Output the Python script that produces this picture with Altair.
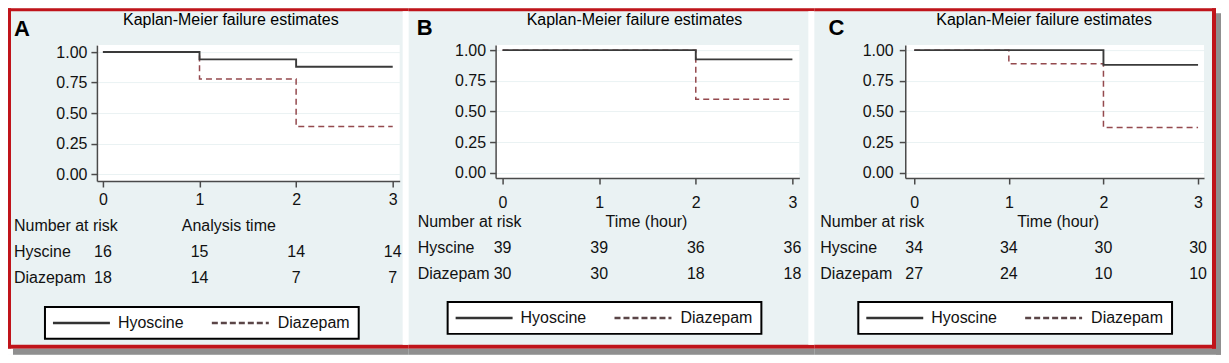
import altair as alt
import pandas as pd

# ---------------- data ----------------
times = [0, 1, 2, 3]
groups = ["Hyoscine", "Diazepam"]          # legend names
row_labels = ["Hyscine", "Diazepam"]       # risk-table row names (as printed)
panel_letters = ["A", "B", "C"]
plot_title = "Kaplan-Meier failure estimates"
x_titles = ["Analysis time", "Time (hour)", "Time (hour)"]
header_label = "Number at risk"
y_ticks = [0, 0.25, 0.5, 0.75, 1.0]
x_ticks = [0, 1, 2, 3]

# Kaplan-Meier estimates as plotted (value at each time, step-after)
a_hyo = [1.00, 0.94, 0.88, 0.88]
a_dia = [1.00, 0.78, 0.39, 0.39]
b_hyo = [1.00, 1.00, 0.925, 0.925]
b_dia = [1.00, 1.00, 0.60, 0.60]
c_hyo = [1.00, 1.00, 0.88, 0.88]
c_dia = [1.00, 0.89, 0.37, 0.37]

# numbers at risk
a_risk_hyo = [16, 15, 14, 14]
a_risk_dia = [18, 14, 7, 7]
b_risk_hyo = [39, 39, 36, 36]
b_risk_dia = [30, 30, 18, 18]
c_risk_hyo = [34, 34, 30, 30]
c_risk_dia = [27, 24, 10, 10]

km = [(a_hyo, a_dia), (b_hyo, b_dia), (c_hyo, c_dia)]
risk = [(a_risk_hyo, a_risk_dia), (b_risk_hyo, b_risk_dia), (c_risk_hyo, c_risk_dia)]

# ---------------- style ----------------
FONT = "Liberation Sans"
BG = "#eaf2f3"
RED = "#c0141a"
SHADOW = "#8f8f8f"
HYO_COL = "#3a3a3a"
DIA_COL = "#94494e"
AXIS_COL = "#4a4a4a"
TXT = "#111111"

# layout (page pixel positions of the reference)
LAYOUT = [
    dict(view=(97, 45, 303, 136), xdom=[-0.062, 3.072], ydom=[-0.057, 1.057], xpad=5, ypad=4,
         letter_xy=(22, 29), title_xy=(231, 20), head_y=226, xtitle_x=229, rows_y=(252, 278),
         lab_x=14, legend=(45, 307, 359, 339), span=(8, 409), gap=(403, 409)),
    dict(view=(496, 45, 304, 133), xdom=[-0.072, 3.072], ydom=[-0.041, 1.041], xpad=11, ypad=4,
         letter_xy=(425, 28), title_xy=(635, 20), head_y=222, xtitle_x=647, rows_y=(248, 274),
         lab_x=418, legend=(448, 302, 762, 334), span=(409, 815), gap=(809, 815)),
    dict(view=(906, 45, 299, 133), xdom=[-0.095, 3.063], ydom=[-0.041, 1.041], xpad=11, ypad=6,
         letter_xy=(837, 28), title_xy=(1045, 20), head_y=222, xtitle_x=1059, rows_y=(248, 274),
         lab_x=821, legend=(859, 302, 1173, 334), span=(815, 1217), gap=None),
]
FRAME_TOP = (8, 11)
FRAME_BOTTOM = (345, 349)
SHADOW_BOTTOM = (349, 355)

dummy = pd.DataFrame({"k": [0]})


def build_panel(i):
    L = LAYOUT[i]
    x0, y0, w, h = L["view"]
    rx = lambda X: X - x0
    ry = lambda Y: Y - y0

    hyo, dia = km[i]
    rh, rd = risk[i]
    lines = pd.DataFrame({
        "time": times * 2,
        "est": hyo + dia,
        "group": [groups[0]] * 4 + [groups[1]] * 4,
    })
    table = pd.DataFrame({
        "time": times * 2,
        "n": rh + rd,
        "group": [groups[0]] * 4 + [groups[1]] * 4,
    })

    xaxis = alt.Axis(values=x_ticks, format="d", grid=False, title=None,
                     domainColor=AXIS_COL, domainWidth=1.5, tickColor=AXIS_COL, tickWidth=1.5,
                     tickSize=6, labelFont=FONT, labelFontSize=16, labelColor=TXT,
                     labelPadding=L["xpad"], labelFlush=False, labelOverlap=False)
    yaxis = alt.Axis(values=y_ticks, format=".2f", grid=True, gridColor=BG, gridWidth=1,
                     title=None, domainColor=AXIS_COL, domainWidth=1.5, tickColor=AXIS_COL,
                     tickWidth=1.5, tickSize=6, labelFont=FONT, labelFontSize=16,
                     labelColor=TXT, labelPadding=L["ypad"], labelFlush=False, labelOverlap=False)
    xscale = alt.Scale(domain=L["xdom"], nice=False, zero=False)
    yscale = alt.Scale(domain=L["ydom"], nice=False, zero=False)
    X = alt.X("time:Q", scale=xscale, axis=xaxis)

    layers = []

    def rect(xa, xb, ya, yb, color):
        layers.append(alt.Chart(dummy).mark_rect(color=color, strokeWidth=0).encode(
            x=alt.value(rx(xa)), x2=alt.value(rx(xb)), y=alt.value(ry(ya)), y2=alt.value(ry(yb))))

    def text(t, X_, Y_, size=16, align="left", bold=False, color=TXT):
        layers.append(alt.Chart(dummy).mark_text(
            font=FONT, fontSize=size, align=align, baseline="middle", color=color,
            fontWeight="bold" if bold else "normal").encode(
            x=alt.value(rx(X_)), y=alt.value(ry(Y_)), text=alt.value(t)))

    # frame pieces
    sx0, sx1 = L["span"]
    rect(sx0, sx1, FRAME_TOP[0], FRAME_TOP[1], RED)
    rect(sx0, sx1, FRAME_BOTTOM[0], FRAME_BOTTOM[1], RED)
    if i == 0:
        rect(sx0, sx0 + 3, FRAME_TOP[0], FRAME_BOTTOM[1], RED)
        rect(sx0, sx0 + 5, SHADOW_BOTTOM[0], SHADOW_BOTTOM[1], "white")
        rect(sx0 + 5, sx1, SHADOW_BOTTOM[0], SHADOW_BOTTOM[1], SHADOW)
    else:
        rect(sx0, sx1 + (5 if i == 2 else 0), SHADOW_BOTTOM[0], SHADOW_BOTTOM[1], SHADOW)
    if i == 2:
        rect(sx1 - 4, sx1, FRAME_TOP[0], FRAME_BOTTOM[1], RED)
        rect(sx1, sx1 + 5, FRAME_TOP[0], FRAME_TOP[0] + 5, "white")
        rect(sx1, sx1 + 5, FRAME_TOP[0] + 5, SHADOW_BOTTOM[1], SHADOW)
    if L["gap"] is not None:
        g0, g1 = L["gap"]
        rect(g0, g1, FRAME_TOP[1], FRAME_BOTTOM[0], "white")

    # KM step lines (diazepam first, hyoscine on top)
    base = alt.Chart(lines)
    layers.append(base.transform_filter(alt.datum.group == groups[1]).mark_line(
        interpolate="step-after", color=DIA_COL, strokeWidth=1.5, strokeDash=[6, 4]).encode(
        x=X, y=alt.Y("est:Q", scale=yscale, axis=yaxis)))
    layers.append(base.transform_filter(alt.datum.group == groups[0]).mark_line(
        interpolate="step-after", color=HYO_COL, strokeWidth=1.9).encode(
        x=X, y=alt.Y("est:Q", scale=yscale, axis=yaxis)))

    # texts
    lx, ly = L["letter_xy"]
    text(panel_letters[i], lx, ly, size=22, align="center", bold=True, color="black")
    tx, ty = L["title_xy"]
    text(plot_title, tx, ty, size=16, align="center", color="black")
    text(header_label, L["lab_x"], L["head_y"], size=16)
    text(x_titles[i], L["xtitle_x"], L["head_y"], size=16, align="center")
    for gname, rlabel, yy in zip(groups, row_labels, L["rows_y"]):
        text(rlabel, L["lab_x"], yy, size=16)
        layers.append(alt.Chart(table).transform_filter(alt.datum.group == gname).mark_text(
            font=FONT, fontSize=16, align="center", baseline="middle", color=TXT).encode(
            x=X, y=alt.value(ry(yy)), text="n:Q"))

    # legend box
    bx0, by0, bx1, by1 = L["legend"]
    my = (by0 + by1) / 2
    layers.append(alt.Chart(dummy).mark_rect(fill="white", stroke="black", strokeWidth=2).encode(
        x=alt.value(rx(bx0)), x2=alt.value(rx(bx1)), y=alt.value(ry(by0)), y2=alt.value(ry(by1))))
    layers.append(alt.Chart(dummy).mark_rule(color="#333333", strokeWidth=2.5).encode(
        x=alt.value(rx(bx0 + 8)), x2=alt.value(rx(bx0 + 65)), y=alt.value(ry(my))))
    text(groups[0], bx0 + 73, my, size=16)
    layers.append(alt.Chart(dummy).mark_rule(color="#5a4547", strokeWidth=2.5, strokeDash=[6, 3]).encode(
        x=alt.value(rx(bx0 + 167)), x2=alt.value(rx(bx0 + 224)), y=alt.value(ry(my))))
    text(groups[1], bx0 + 233, my, size=16)

    return alt.layer(*layers).properties(width=w, height=h)


panels = [build_panel(i) for i in range(3)]

chart = alt.hconcat(*panels, spacing=0).properties(
    padding=0, background=BG
).configure_view(fill="white", strokeWidth=0).configure_concat(spacing=0)

chart.save("out.html", embed_options={"renderer": "svg", "actions": False})
